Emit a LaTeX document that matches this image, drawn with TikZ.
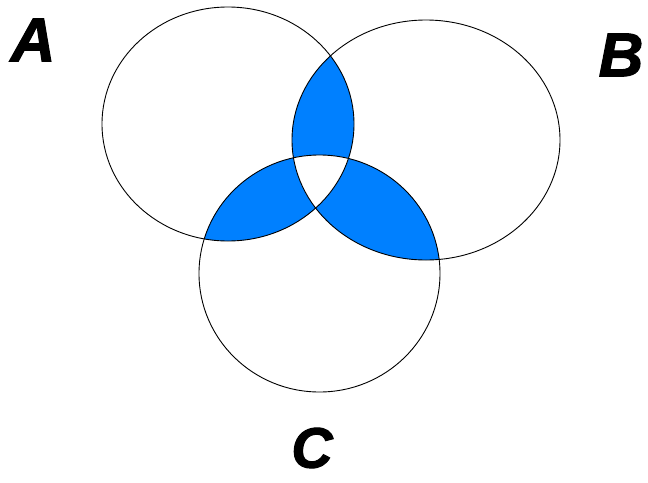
\documentclass[tikz,border=0pt]{standalone}
\usepackage{fontspec}
\setmainfont{Liberation Sans}
\newfontfamily\labfont{Liberation Sans}[BoldItalicFeatures={FakeBold=1.8}]
\definecolor{venn}{RGB}{0,128,255}
\newcommand{\vA}{(228,124) ellipse [x radius=126pt, y radius=117pt]}
\newcommand{\vB}{(426,140) ellipse [x radius=134pt, y radius=120pt]}
\newcommand{\vC}{(319.5,273.5) ellipse [x radius=120.5pt, y radius=118.5pt]}
\tikzset{
  setline/.style={draw=black, line width=0.9pt},
  setlabel/.style={font=\labfont\fontsize{62}{62}\selectfont\bfseries\itshape, inner sep=0pt, text=black}
}
\begin{document}
\begin{tikzpicture}[x=1pt,y=-1pt]
\useasboundingbox (0,0) rectangle (648,482);
\fill[white] (0,0) rectangle (648,482);
% pairwise intersections
\begin{scope}\clip \vA; \fill[venn] \vB; \end{scope}
\begin{scope}\clip \vA; \fill[venn] \vC; \end{scope}
\begin{scope}\clip \vB; \fill[venn] \vC; \end{scope}
% triple intersection white
\begin{scope}\clip \vA; \clip \vB; \fill[white] \vC; \end{scope}
% outlines
\draw[setline] \vA;
\draw[setline] \vB;
\draw[setline] \vC;
% labels
\node[setlabel] (labA) at (33,40) {A};
\node[setlabel] (labB) at (621,55) {B};
\node[setlabel, font=\labfont\fontsize{57}{57}\selectfont\bfseries\itshape] (labC) at (312,448) {C};
\end{tikzpicture}
\end{document}
